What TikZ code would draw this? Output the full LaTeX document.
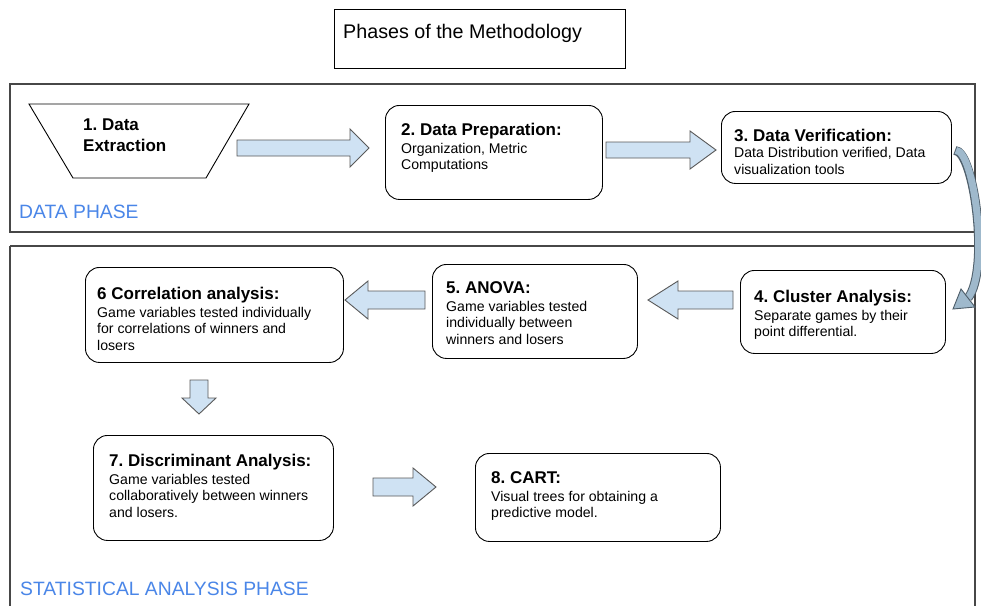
\documentclass[tikz,border=0pt]{standalone}
\usepackage{fontspec}
\setmainfont{Liberation Sans}
\usetikzlibrary{calc}
\frenchspacing
\definecolor{arrfill}{HTML}{CFE2F3}
\definecolor{arrdraw}{HTML}{595959}
\definecolor{phaseblue}{HTML}{4A86E8}
\definecolor{curvefill}{HTML}{9FB9CC}
\definecolor{curvedraw}{HTML}{4F5F6B}
\newcommand{\ttl}[1]{{\fontsize{17}{19}\selectfont\bfseries\rule{0pt}{13pt}#1}}
% horizontal block arrow: tail x, tip x, centre y, head base x, shaft half, head half
\newcommand{\harr}[6]{\draw[barrow] (#1,#3-#5) -- (#4,#3-#5) -- (#4,#3-#6) -- (#2,#3) -- (#4,#3+#6) -- (#4,#3+#5) -- (#1,#3+#5) -- cycle;}
% vertical block arrow: centre x, tail y, tip y, head base y, shaft half, head half
\newcommand{\varr}[6]{\draw[barrow] (#1-#5,#2) -- (#1-#5,#4) -- (#1-#6,#4) -- (#1,#3) -- (#1+#6,#4) -- (#1+#5,#4) -- (#1+#5,#2) -- cycle;}
\begin{document}
\begin{tikzpicture}[x=1pt,y=-1pt,
  frame/.style={draw=black!72, line width=1.2pt},
  box/.style={draw=black, line width=0.9pt, rounded corners=14pt, anchor=north west, inner sep=0pt},
  barrow/.style={draw=arrdraw, fill=arrfill, line width=0.9pt, line join=miter},
  body/.style={align=left, inner sep=0pt, anchor=north west, font=\fontsize{14.1}{16.5}\selectfont},
  phase/.style={inner sep=0pt, anchor=base west, text=phaseblue, font=\fontsize{19.3}{22}\selectfont}]
\useasboundingbox (0,0) rectangle (981,605);
\fill[white] (0,0) rectangle (981,605);

% title
\node[draw=black, line width=0.9pt, minimum width=291pt, minimum height=59pt, anchor=north west, inner sep=0pt] (title) at (334,9) {};
\node[inner sep=0pt, anchor=base west, font=\fontsize{19.7}{22}\selectfont] (titletext) at (343,38) {Phases of the Methodology};

% frames
\draw[frame] (10,84) rectangle (975,232);
\draw[frame] (10,246) -- (10,615) (10,246) -- (975,246) -- (975,615);
\node[phase] (dp) at (19,218) {DATA PHASE};
\node[phase] (sp) at (20,595) {STATISTICAL ANALYSIS PHASE};

% 1. data extraction
\draw[draw=black, line width=0.9pt] (29,104) -- (249,104) -- (206,178) -- (73,178) -- cycle;
\node[inner sep=0pt, anchor=north west, align=left, font=\fontsize{17}{21}\selectfont\bfseries] (t1) at (83,117) {\rule{0pt}{13pt}1. Data\\Extraction};

% boxes
\node[box, minimum width=217pt, minimum height=94pt] (b2) at (385,105) {};
\node[body] (t2) at (401,135-13) {\ttl{2. Data Preparation:}\\[1.5pt]Organization, Metric\\Computations};

\node[box, minimum width=230pt, minimum height=72pt] (b3) at (721,111) {};
\node[body] (t3) at (734,141-13) {\ttl{3. Data Verification:}\\[0pt]Data Distribution verified, Data\\visualization tools};

\node[box, minimum width=205pt, minimum height=83pt] (b4) at (740,270) {};
\node[body] (t4) at (754,302-13) {\ttl{4. Cluster Analysis:}\\[1.5pt]Separate games by their\\point differential.};

\node[box, minimum width=205pt, minimum height=94pt] (b5) at (432,264) {};
\node[body] (t5) at (446,293-13) {\ttl{5. ANOVA:}\\[1.5pt]Game variables tested\\individually between\\winners and losers};

\node[box, minimum width=258pt, minimum height=95pt] (b6) at (85,267) {};
\node[body] (t6) at (97,299-13) {\ttl{6 Correlation analysis:}\\[1.5pt]Game variables tested individually\\for correlations of winners and\\losers};

\node[box, minimum width=240pt, minimum height=105pt] (b7) at (93,435) {};
\node[body] (t7) at (109,466-13) {\ttl{7. Discriminant Analysis:}\\[1.5pt]Game variables tested\\collaboratively between winners\\and losers.};

\node[box, minimum width=245pt, minimum height=88pt] (b8) at (475,453) {};
\node[body] (t8) at (491,483-13) {\ttl{8. CART:}\\[1.5pt]Visual trees for obtaining a\\predictive model.};

% block arrows
\harr{237}{369}{148}{350}{8}{19}
\harr{606}{716}{150}{690}{8}{19}
\harr{733}{648}{300}{678}{9}{19}
\harr{425}{345}{300}{368}{9}{19}
\varr{199}{380}{414}{398}{9}{17}
\harr{373}{436}{487}{413}{9}{19}

% curved arrow 3 -> 4
\coordinate (cs) at ($(b3.east)+(3,3)$);
\coordinate (ce) at (968,298);
\draw[curvedraw, line width=9pt] (cs) .. controls (974,150) and (990,270) .. (ce);
\draw[curvefill, line width=7pt] ($(cs)+(1,0)$) .. controls (974,150) and (990,270) .. (ce);
\draw[draw=curvedraw, fill=curvefill, line width=0.9pt, line join=miter] (975,307) -- (953,309) -- (961,289) -- cycle;
\end{tikzpicture}
\end{document}
